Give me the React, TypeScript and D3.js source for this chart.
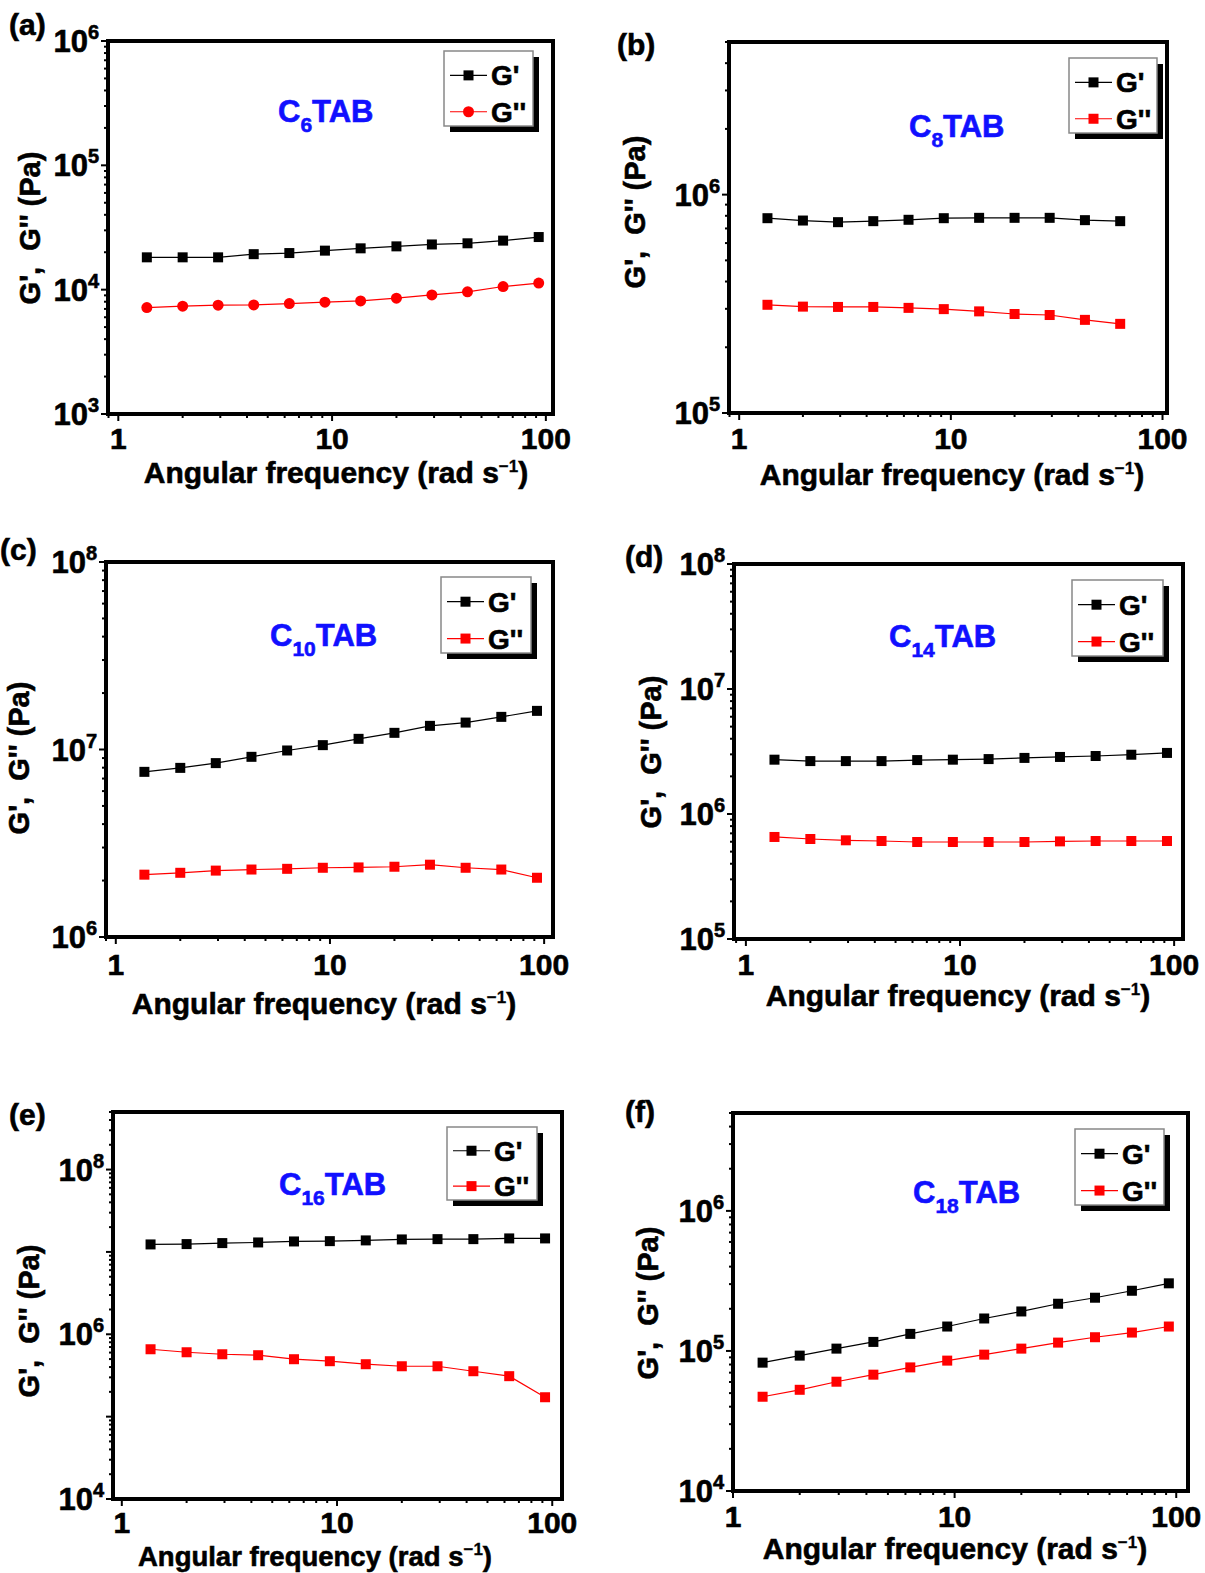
import React from 'react';
import * as d3 from 'd3';

// ---------------- DATA ----------------
const FREQ_12 = [1.36, 2.0, 2.93, 4.3, 6.31, 9.26, 13.6, 20.0, 29.3, 43.0, 63.1, 92.6];
const FREQ_11 = [1.36, 2.0, 2.93, 4.3, 6.31, 9.26, 13.6, 20.0, 29.3, 43.0, 63.1];

const C6_GP = [18200, 18200, 18200, 19300, 19700, 20600, 21500, 22300, 23100, 23600, 24800, 26500];
const C6_GPP = [7180, 7360, 7500, 7540, 7730, 7930, 8120, 8540, 9080, 9600, 10600, 11300];

const C8_GP = [780000, 761000, 748000, 756000, 767000, 780000, 783000, 783000, 783000, 764000, 756000];
const C8_GPP = [313000, 307000, 306000, 306000, 303000, 299000, 292000, 284000, 281000, 267000, 256000];

const C10_GP = [7.6e6, 7.98e6, 8.46e6, 9.14e6, 9.88e6, 1.055e7, 1.14e7, 1.227e7, 1.337e7, 1.392e7, 1.493e7, 1.607e7];
const C10_GPP = [2.15e6, 2.2e6, 2.26e6, 2.29e6, 2.31e6, 2.34e6, 2.35e6, 2.37e6, 2.43e6, 2.34e6, 2.29e6, 2.07e6];

const C14_GP = [2.72e6, 2.65e6, 2.65e6, 2.65e6, 2.7e6, 2.72e6, 2.75e6, 2.81e6, 2.86e6, 2.91e6, 2.98e6, 3.08e6];
const C14_GPP = [6.55e5, 6.31e5, 6.16e5, 6.08e5, 5.97e5, 5.97e5, 5.97e5, 5.97e5, 6.04e5, 6.08e5, 6.08e5, 6.08e5];

const C16_GP = [1.233e7, 1.245e7, 1.28e7, 1.303e7, 1.34e7, 1.352e7, 1.38e7, 1.418e7, 1.43e7, 1.43e7, 1.459e7, 1.459e7];
const C16_GPP = [6.58e5, 6.05e5, 5.72e5, 5.57e5, 4.98e5, 4.71e5, 4.33e5, 4.09e5, 4.09e5, 3.56e5, 3.1e5, 1.72e5];

const C18_GP = [8.25e4, 9.26e4, 1.039e5, 1.16e5, 1.324e5, 1.494e5, 1.705e5, 1.914e5, 2.173e5, 2.399e5, 2.69e5, 3.04e5];
const C18_GPP = [4.71e4, 5.28e4, 6.03e4, 6.77e4, 7.63e4, 8.53e4, 9.41e4, 1.039e5, 1.147e5, 1.253e5, 1.353e5, 1.494e5];

const X_TICK_LABELS = [1, 10, 100];
const SERIES_NAMES = ["G'", "G''"];
const PANEL_LETTERS = ['(a)', '(b)', '(c)', '(d)', '(e)', '(f)'];
const CHAIN_LENGTHS = ['6', '8', '10', '14', '16', '18'];
const X_TITLE = 'Angular frequency (rad s';
const Y_TITLE = "G',  G'' (Pa)";

// ---------------- LAYOUT ----------------
type Frame = { l: number; t: number; r: number; b: number };
type PanelCfg = {
  freq: number[];
  gp: number[];
  gpp: number[];
  gppShape: 'circle' | 'square';
  xDomain: [number, number];
  yDomain: [number, number];
  yLabelExps: number[];
  frame: Frame;
  letterPos: [number, number];
  namePos: [number, number];
  legend: { x: number; y: number; w: number; h: number };
  yTitle: [number, number];
  xTitle: [number, number];
  xTitleSize: number;
  xTickBase: number;
};

const PANELS: PanelCfg[] = [
  {
    freq: FREQ_12, gp: C6_GP, gpp: C6_GPP, gppShape: 'circle',
    xDomain: [0.895, 108], yDomain: [1e3, 1e6], yLabelExps: [3, 4, 5, 6],
    frame: { l: 108, t: 41, r: 553, b: 414 },
    letterPos: [9, 35], namePos: [278, 122], legend: { x: 444, y: 51, w: 89, h: 75 },
    yTitle: [40, 228], xTitle: [336, 483], xTitleSize: 30, xTickBase: 449,
  },
  {
    freq: FREQ_11, gp: C8_GP, gpp: C8_GPP, gppShape: 'square',
    xDomain: [0.895, 105], yDomain: [1e5, 5e6], yLabelExps: [5, 6],
    frame: { l: 729, t: 42, r: 1167, b: 413 },
    letterPos: [617, 55], namePos: [909, 137], legend: { x: 1069, y: 58, w: 88, h: 75 },
    yTitle: [645, 212], xTitle: [952, 485], xTitleSize: 30, xTickBase: 449,
  },
  {
    freq: FREQ_12, gp: C10_GP, gpp: C10_GPP, gppShape: 'square',
    xDomain: [0.9, 110], yDomain: [1e6, 1e8], yLabelExps: [6, 7, 8],
    frame: { l: 106, t: 562, r: 553, b: 937 },
    letterPos: [0, 560], namePos: [270, 646], legend: { x: 441, y: 577, w: 90, h: 76 },
    yTitle: [29, 758], xTitle: [324, 1014], xTitleSize: 30, xTickBase: 975,
  },
  {
    freq: FREQ_12, gp: C14_GP, gpp: C14_GPP, gppShape: 'square',
    xDomain: [0.88, 110], yDomain: [1e5, 1e8], yLabelExps: [5, 6, 7, 8],
    frame: { l: 734, t: 564, r: 1183, b: 939 },
    letterPos: [625, 567], namePos: [889, 647], legend: { x: 1072, y: 580, w: 91, h: 76 },
    yTitle: [661, 752], xTitle: [958, 1006], xTitleSize: 30, xTickBase: 975,
  },
  {
    freq: FREQ_12, gp: C16_GP, gpp: C16_GPP, gppShape: 'square',
    xDomain: [0.91, 111], yDomain: [1e4, 5e8], yLabelExps: [4, 6, 8],
    frame: { l: 113, t: 1112, r: 562, b: 1499 },
    letterPos: [9, 1125], namePos: [279, 1195], legend: { x: 447, y: 1127, w: 90, h: 73 },
    yTitle: [39, 1321], xTitle: [315, 1566], xTitleSize: 27.5, xTickBase: 1533,
  },
  {
    freq: FREQ_12, gp: C18_GP, gpp: C18_GPP, gppShape: 'square',
    xDomain: [1.0, 113], yDomain: [1e4, 5e6], yLabelExps: [4, 5, 6],
    frame: { l: 733, t: 1113, r: 1188, b: 1491 },
    letterPos: [625, 1122], namePos: [913, 1203], legend: { x: 1075, y: 1129, w: 89, h: 76 },
    yTitle: [658, 1303], xTitle: [955, 1559], xTitleSize: 30, xTickBase: 1527,
  },
];

const FONT = "'Liberation Sans', Arial, Helvetica, sans-serif";
const BLUE = '#1010ff';
const RED = '#ff0000';
const HEAVY = 0.6; // extra stroke for the heavier look of the original bold font

function Marker({ shape, cx, cy, color, size }: { shape: 'circle' | 'square'; cx: number; cy: number; color: string; size: number }) {
  if (shape === 'circle') return <circle cx={cx} cy={cy} r={size / 2 + 0.5} fill={color} />;
  return <rect x={cx - size / 2} y={cy - size / 2} width={size} height={size} fill={color} />;
}

function Panel({ cfg, idx }: { cfg: PanelCfg; idx: number }) {
  const { frame } = cfg;
  const x = d3.scaleLog().domain(cfg.xDomain).range([frame.l, frame.r]);
  const y = d3.scaleLog().domain(cfg.yDomain).range([frame.b, frame.t]);

  const isMajor = (v: number) => Math.abs(Math.log10(v) - Math.round(Math.log10(v))) < 1e-6;
  const xTicks = x.ticks().filter((v) => v >= cfg.xDomain[0] && v <= cfg.xDomain[1]);
  const yTicks = y.ticks().filter((v) => v >= cfg.yDomain[0] * 0.999 && v <= cfg.yDomain[1] * 1.001);

  const lineGen = d3.line<number>().x((_, i) => x(cfg.freq[i])).y((d) => y(d));
  const msize = 10;

  const lg = cfg.legend;
  const rows = [lg.y + lg.h * 0.325, lg.y + lg.h * 0.81];

  return (
    <g fontFamily={FONT} fontWeight="bold">
      {/* panel letter */}
      <text x={cfg.letterPos[0]} y={cfg.letterPos[1]} fontSize={30} stroke="#000" strokeWidth={HEAVY}>
        {PANEL_LETTERS[idx]}
      </text>

      {/* y ticks */}
      {yTicks.map((v, i) => {
        const yy = y(v);
        const len = isMajor(v) ? 7 : 4;
        return <line key={'yt' + i} x1={frame.l - len} x2={frame.l} y1={yy} y2={yy} stroke="#000" strokeWidth={2} />;
      })}
      {/* x ticks */}
      {xTicks.map((v, i) => {
        const xx = x(v);
        const len = isMajor(v) ? 7 : 4;
        return <line key={'xt' + i} x1={xx} x2={xx} y1={frame.b} y2={frame.b + len} stroke="#000" strokeWidth={2} />;
      })}

      {/* frame */}
      <rect x={frame.l} y={frame.t} width={frame.r - frame.l} height={frame.b - frame.t} fill="none" stroke="#000" strokeWidth={4} />

      {/* y tick labels */}
      {cfg.yLabelExps.map((e) => {
        const yy = y(Math.pow(10, e));
        return (
          <text key={'yl' + e} x={frame.l - 9} y={yy + 11} fontSize={31} textAnchor="end" stroke="#000" strokeWidth={HEAVY}>
            10<tspan dy={-13} fontSize={20}>{e}</tspan>
          </text>
        );
      })}
      {/* x tick labels */}
      {X_TICK_LABELS.map((v) => (
        <text key={'xl' + v} x={x(v)} y={cfg.xTickBase} fontSize={30} textAnchor="middle" stroke="#000" strokeWidth={HEAVY}>
          {v}
        </text>
      ))}

      {/* axis titles */}
      <text x={cfg.xTitle[0]} y={cfg.xTitle[1]} fontSize={cfg.xTitleSize} textAnchor="middle" stroke="#000" strokeWidth={HEAVY}>
        {X_TITLE}
        <tspan dy={-11} fontSize={17} strokeWidth={0.3}>{'\u22121'}</tspan>
        <tspan dy={11}>)</tspan>
      </text>
      <text
        transform={`translate(${cfg.yTitle[0]},${cfg.yTitle[1]}) rotate(-90)`}
        fontSize={29}
        textAnchor="middle"
        stroke="#000"
        strokeWidth={HEAVY}
        style={{ whiteSpace: 'pre' }}
      >
        {Y_TITLE}
      </text>

      {/* series */}
      <path d={lineGen(cfg.gp) || ''} fill="none" stroke="#000" strokeWidth={1.2} />
      <path d={lineGen(cfg.gpp) || ''} fill="none" stroke={RED} strokeWidth={1.2} />
      {cfg.gp.map((v, i) => (
        <Marker key={'p' + i} shape="square" cx={x(cfg.freq[i])} cy={y(v)} color="#000" size={msize} />
      ))}
      {cfg.gpp.map((v, i) => (
        <Marker key={'pp' + i} shape={cfg.gppShape} cx={x(cfg.freq[i])} cy={y(v)} color={RED} size={msize} />
      ))}

      {/* sample name */}
      <text x={cfg.namePos[0]} y={cfg.namePos[1]} fontSize={31} fill={BLUE} stroke={BLUE} strokeWidth={HEAVY}>
        C<tspan dy={10} fontSize={21}>{CHAIN_LENGTHS[idx]}</tspan>
        <tspan dy={-10}>TAB</tspan>
      </text>

      {/* legend */}
      <rect x={lg.x + 6} y={lg.y + 6} width={lg.w} height={lg.h} fill="#000" />
      <rect x={lg.x} y={lg.y} width={lg.w} height={lg.h} fill="#fff" stroke="#888" strokeWidth={1.5} />
      {rows.map((ry, i) => {
        const color = i === 0 ? '#000' : RED;
        const shape = i === 0 ? 'square' : cfg.gppShape;
        return (
          <g key={'lg' + i}>
            <line x1={lg.x + 6} x2={lg.x + 43} y1={ry} y2={ry} stroke={color} strokeWidth={1.2} />
            <Marker shape={shape as 'circle' | 'square'} cx={lg.x + 24.5} cy={ry} color={color} size={msize} />
            <text x={lg.x + 47} y={ry + 10} fontSize={28} stroke="#000" strokeWidth={HEAVY}>{SERIES_NAMES[i]}</text>
          </g>
        );
      })}
    </g>
  );
}

export default function App() {
  return (
    <svg
      width={1205}
      height={1573}
      viewBox="0 0 1205 1573"
      style={{ position: 'absolute', left: 0, top: 0, background: '#fff' }}
    >
      <rect x={0} y={0} width={1205} height={1573} fill="#fff" />
      {PANELS.map((p, i) => (
        <Panel key={i} cfg={p} idx={i} />
      ))}
    </svg>
  );
}
